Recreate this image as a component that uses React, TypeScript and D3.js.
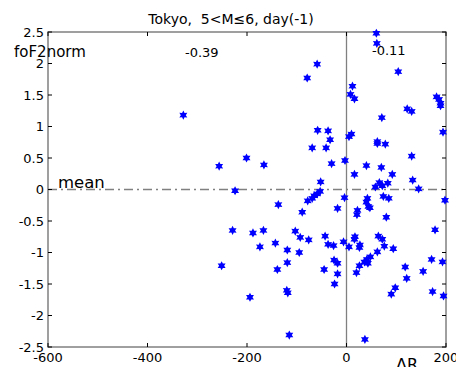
import React from 'react';
import * as d3 from 'd3';

// Delta R (x) and normalised foF2 (y)
const deltaR = [
  -328, -256, -201, -166, -224, -229, -188, -167, -174, -251, -194,
  -59, -79, 12, 8, 16, -58, -37, 5, 10, -33, -69, -41, -30, -3, 16,
  -52, -53, -59, -65, -69, -78, -137, -4, -89, -18, -103, -93, -76, -43,
  -37, -26, -6, -143, -119, -95, -119, -139, -45, -25, -18, -18, -24,
  -120, -118, -115,
  60, 61, 104, 71, 122, 131, 181, 186, 189, 189, 194, 62, 62, 78, 131,
  40, 70, 92, 133, 145, 66, 58, 72, 83, 74, 85, 42, 40, 47, 44, 22, 21,
  80, 198, 178, 17, 16, 64, 72, 5, 27, 26, 76, 94, 62, 48, 41, 36, 43,
  26, 20, 118, 121, 98, 90, 154, 171, 193, 173, 195, 37,
];
const foF2norm = [
  1.18, 0.37, 0.5, 0.39, -0.02, -0.65, -0.69, -0.65, -0.91, -1.21, -1.71,
  1.99, 1.77, 1.64, 1.51, 1.44, 0.94, 0.93, 0.84, 0.88, 0.79, 0.66, 0.66, 0.41, 0.46, 0.24,
  0.12, -0.03, -0.07, -0.1, -0.14, -0.18, -0.24, -0.13, -0.36, -0.3, -0.66, -0.76, -0.8, -0.74,
  -0.87, -0.89, -0.83, -0.85, -0.96, -1.0, -1.16, -1.27, -1.27, -1.12, -1.17, -1.34, -1.5,
  -1.6, -1.64, -2.31,
  2.48, 2.32, 1.87, 1.14, 1.28, 1.24, 1.47, 1.43, 1.37, 1.33, 0.91, 0.76, 0.73, 0.72, 0.53,
  0.38, 0.35, 0.24, 0.15, 0.01, 0.11, 0.04, 0.06, 0.1, -0.11, -0.14, -0.14, -0.2, -0.29, -0.27, -0.33, -0.4,
  -0.44, -0.17, -0.64, -0.75, -0.79, -0.74, -0.79, -0.91, -0.88, -0.92, -0.9, -0.94, -0.99, -1.07, -1.11, -1.15, -1.17,
  -1.21, -1.32, -1.23, -1.41, -1.56, -1.66, -1.3, -1.11, -1.15, -1.62, -1.69, -2.38,
];

const xTicks = [-600, -400, -200, 0, 200];
const yTicks = [-2.5, -2, -1.5, -1, -0.5, 0, 0.5, 1, 1.5, 2, 2.5];

const title = 'Tokyo,  5<M\u22646, day(-1)';
const corrLeft = '-0.39';
const corrRight = '-0.11';

const W = 456;
const H = 367;
const margin = { top: 32, right: 10, bottom: 20, left: 48 };

// six-pointed star marker
const starPath = (() => {
  const pts: [number, number][] = [];
  for (let i = 0; i < 12; i++) {
    const r = i % 2 === 0 ? 4.6 : 2.5;
    const a = (Math.PI / 6) * i - Math.PI / 2;
    pts.push([r * Math.cos(a), r * Math.sin(a)]);
  }
  return d3.line()(pts) + 'Z';
})();

const App: React.FC = () => {
  const x0 = margin.left;
  const x1 = W - margin.right;
  const y0 = margin.top;
  const y1 = H - margin.bottom;

  const x = d3.scaleLinear().domain([-600, 200]).range([x0, x1]);
  const y = d3.scaleLinear().domain([-2.5, 2.5]).range([y1, y0]);

  const axisColor = '#808080';
  const font = '"DejaVu Sans", Verdana, sans-serif';
  const points = deltaR.map((d, i) => [d, foF2norm[i]] as [number, number]);

  return (
    <svg
      width={W}
      height={H}
      style={{ position: 'absolute', left: 0, top: 0, background: '#fff' }}
      fontFamily={font}
    >
      <rect x={0} y={0} width={W} height={H} fill="#fff" />

      {/* zero lines */}
      <line x1={x(0)} x2={x(0)} y1={y0} y2={y1} stroke={axisColor} strokeWidth={1.3} />
      <line
        x1={x0}
        x2={x1}
        y1={y(0)}
        y2={y(0)}
        stroke={axisColor}
        strokeWidth={1.3}
        strokeDasharray="9,4,2,4"
      />

      {/* frame */}
      <rect x={x0} y={y0} width={x1 - x0} height={y1 - y0} fill="none" stroke={axisColor} strokeWidth={1.5} />

      {/* x ticks */}
      {xTicks.map(t => (
        <g key={'x' + t}>
          <line x1={x(t)} x2={x(t)} y1={y1} y2={y1 - 4} stroke="#000" />
          <line x1={x(t)} x2={x(t)} y1={y0} y2={y0 + 4} stroke="#000" />
          <text x={x(t)} y={y1 + 15} fontSize={13} textAnchor="middle" fill="#000">
            {t}
          </text>
        </g>
      ))}

      {/* y ticks */}
      {yTicks.map(t => (
        <g key={'y' + t}>
          <line x1={x0} x2={x0 + 4} y1={y(t)} y2={y(t)} stroke="#000" />
          <line x1={x1} x2={x1 - 4} y1={y(t)} y2={y(t)} stroke="#000" />
          <text x={x0 - 4} y={y(t) + 4.5} fontSize={13} textAnchor="end" fill="#000">
            {t}
          </text>
        </g>
      ))}

      {/* points */}
      {points.map(([a, b], i) => (
        <path key={i} d={starPath} transform={`translate(${x(a)},${y(b)})`} fill="#0000ff" />
      ))}

      {/* texts */}
      <text x={231} y={24} fontSize={14} textAnchor="middle" fill="#000" style={{ whiteSpace: 'pre' }}>
        {title}
      </text>
      <text x={14} y={57} fontSize={15} fill="#000">
        foF2norm
      </text>
      <text x={185} y={57} fontSize={13} fill="#000">
        {corrLeft}
      </text>
      <text x={372} y={55} fontSize={13} fill="#000">
        {corrRight}
      </text>
      <text x={58} y={188} fontSize={16.5} fill="#000">
        mean
      </text>
      <text x={396} y={370} fontSize={16} fill="#000">
        ΔR
      </text>
    </svg>
  );
};

export default App;
